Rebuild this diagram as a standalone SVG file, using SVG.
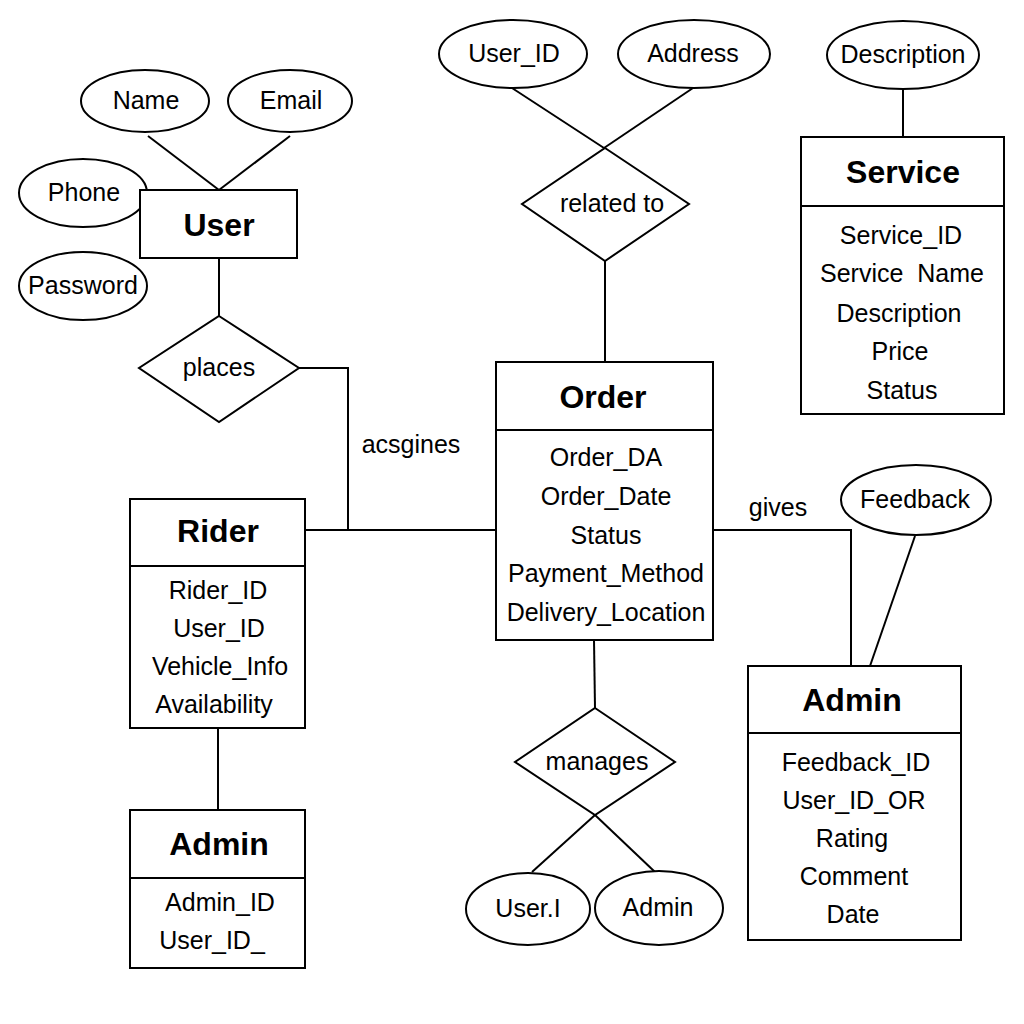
<svg xmlns="http://www.w3.org/2000/svg" width="1024" height="1024" viewBox="0 0 1024 1024">
<style>
.s{fill:#fff;stroke:#000;stroke-width:2}
.c{fill:none;stroke:#000;stroke-width:2}
text{font-family:"Liberation Sans",Arial,sans-serif;font-size:25px;fill:#000;text-anchor:middle}
.t{font-weight:bold;font-size:32px}
</style>
<rect width="1024" height="1024" fill="#fff"/>
<g id="connectors">
<line class="c" x1="148" y1="136" x2="219" y2="190"/>
<line class="c" x1="290" y1="136" x2="219" y2="190"/>
<line class="c" x1="219" y1="258" x2="219" y2="316"/>
<polyline class="c" points="299,368 348,368 348,530"/>
<line class="c" x1="305" y1="530" x2="496" y2="530"/>
<line class="c" x1="512" y1="88" x2="604" y2="148"/>
<line class="c" x1="693" y1="88" x2="604" y2="148"/>
<line class="c" x1="605" y1="261" x2="605" y2="362"/>
<line class="c" x1="903" y1="89" x2="903" y2="137"/>
<polyline class="c" points="713,530 851,530 851,666"/>
<line class="c" x1="915" y1="536" x2="870" y2="666"/>
<line class="c" x1="594" y1="640" x2="595" y2="708"/>
<line class="c" x1="595" y1="815" x2="532" y2="872"/>
<line class="c" x1="595" y1="815" x2="655" y2="872"/>
<line class="c" x1="218" y1="728" x2="218" y2="810"/>
<text x="411" y="453">acsgines</text>
<text x="778" y="516">gives</text>
</g>
<g id="attr-name"><ellipse class="s" cx="145" cy="101" rx="64" ry="31"/><text x="146" y="109">Name</text></g>
<g id="attr-email"><ellipse class="s" cx="290" cy="101" rx="62" ry="31"/><text x="291" y="109">Email</text></g>
<g id="attr-phone"><ellipse class="s" cx="83" cy="193" rx="64" ry="34"/><text x="84" y="201">Phone</text></g>
<g id="attr-password"><ellipse class="s" cx="83" cy="286" rx="64" ry="34"/><text x="83" y="294">Password</text></g>
<g id="user"><rect class="s" x="140" y="190" width="157" height="68"/><text class="t" x="219" y="236">User</text></g>
<g id="rel-places"><polygon class="s" points="219,316 299,368 219,422 139,368"/><text x="219" y="376">places</text></g>
<g id="rider"><rect class="s" x="130" y="499" width="175" height="229"/><line class="c" x1="130" y1="566" x2="305" y2="566"/>
<text class="t" x="218" y="542">Rider</text>
<text x="218" y="599">Rider_ID</text><text x="219" y="637">User_ID</text><text x="220" y="675">Vehicle_Info</text><text x="214" y="713">Availability</text></g>
<g id="admin-left"><rect class="s" x="130" y="810" width="175" height="158"/><line class="c" x1="130" y1="878" x2="305" y2="878"/>
<text class="t" x="219" y="855">Admin</text>
<text x="220" y="911">Admin_ID</text><text x="212" y="949">User_ID_</text></g>
<g id="attr-userid"><ellipse class="s" cx="513" cy="54" rx="74" ry="34"/><text x="514" y="62">User_ID</text></g>
<g id="attr-address"><ellipse class="s" cx="694" cy="54" rx="76" ry="34"/><text x="693" y="62">Address</text></g>
<g id="rel-related"><polygon class="s" points="605,148 689,204 605,261 522,204"/><text x="612" y="212">related to</text></g>
<g id="order"><rect class="s" x="496" y="362" width="217" height="278"/><line class="c" x1="496" y1="430" x2="713" y2="430"/>
<text class="t" x="603" y="408">Order</text>
<text x="606" y="466">Order_DA</text><text x="606" y="505">Order_Date</text><text x="606" y="544">Status</text><text x="606" y="582">Payment_Method</text><text x="606" y="621">Delivery_Location</text></g>
<g id="attr-description"><ellipse class="s" cx="903" cy="55" rx="76" ry="34"/><text x="903" y="63">Description</text></g>
<g id="service"><rect class="s" x="801" y="137" width="203" height="277"/><line class="c" x1="801" y1="206" x2="1004" y2="206"/>
<text class="t" x="903" y="183">Service</text>
<text x="901" y="244">Service_ID</text><text x="902" y="282" xml:space="preserve">Service  Name</text><text x="899" y="322">Description</text><text x="900" y="360">Price</text><text x="902" y="399">Status</text></g>
<g id="attr-feedback"><ellipse class="s" cx="916" cy="500" rx="75" ry="35"/><text x="915" y="508">Feedback</text></g>
<g id="admin-right"><rect class="s" x="748" y="666" width="213" height="274"/><line class="c" x1="748" y1="733" x2="961" y2="733"/>
<text class="t" x="852" y="711">Admin</text>
<text x="856" y="771">Feedback_ID</text><text x="854" y="809">User_ID_OR</text><text x="852" y="847">Rating</text><text x="854" y="885">Comment</text><text x="853" y="923">Date</text></g>
<g id="rel-manages"><polygon class="s" points="595,708 675,762 595,815 515,762"/><text x="597" y="770">manages</text></g>
<g id="attr-useri"><ellipse class="s" cx="528" cy="909" rx="62" ry="36"/><text x="528" y="917">User.I</text></g>
<g id="attr-admin"><ellipse class="s" cx="659" cy="908" rx="64" ry="37"/><text x="658" y="916">Admin</text></g>
</svg>
